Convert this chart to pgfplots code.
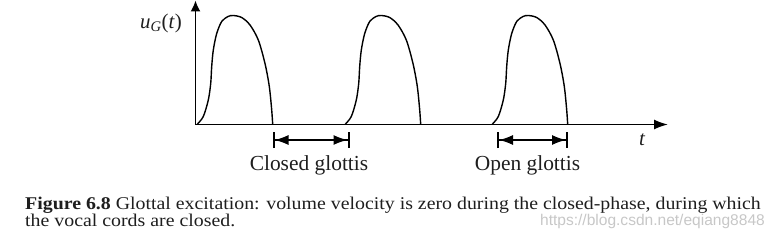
\documentclass[border=0pt]{standalone}
\usepackage{fontspec}
\setmainfont{Liberation Serif}
\newfontfamily\wmfont{Liberation Sans}
\usepackage{graphicx}
\usepackage{pgfplots}
\pgfplotsset{compat=1.18}
\usetikzlibrary{arrows.meta}
\definecolor{txt}{RGB}{30,30,30}
\begin{document}
\begin{tikzpicture}[x=1bp,y=1bp]
\useasboundingbox (0,0) rectangle (775,241);
\begin{axis}[
  at={(195.5bp,116.5bp)}, anchor=south west,
  x=1bp, y=1bp,
  xmin=195.5, xmax=668, ymin=0, ymax=124,
  enlargelimits=false, clip=false,
  axis x line=bottom, axis y line=left,
  axis line style={line width=1.6bp},
  x axis line style={-{Latex[length=14bp,width=10bp]}},
  y axis line style={-{Latex[length=11bp,width=10bp]}},
  ticks=none,
]
\addplot[line width=1.4bp, smooth, tension=0.5] coordinates {
 (197,0) (203.3,8) (208.3,24.5) (210.7,41) (211.7,58) (213.3,74.5) (216.7,91) (221.7,103) (228,108) (233.3,109) (241.7,107) (250,99.5) (258.3,84.5) (265,61) (269.3,38) (271.7,14.5) (272.7,0)};
\addplot[line width=1.4bp, smooth, tension=0.5] coordinates {
 (345,0) (351.3,8) (356.3,24.5) (358.7,41) (359.7,58) (361.3,74.5) (364.7,91) (369.7,103) (376,108) (381.3,109) (389.7,107) (398,99.5) (406.3,84.5) (413,61) (417.3,38) (419.7,14.5) (420.7,0)};
\addplot[line width=1.4bp, smooth, tension=0.5] coordinates {
 (492,0) (498.3,8) (503.3,24.5) (505.7,41) (506.7,58) (508.3,74.5) (511.7,91) (516.7,103) (523,108) (528.3,109) (536.7,107) (545,99.5) (553.3,84.5) (560,61) (564.3,38) (566.7,14.5) (567.7,0)};
\draw[line width=1.4bp, {Bar[width=16bp,line width=2bp]Latex[length=14bp,width=10bp]}-{Latex[length=14bp,width=10bp]Bar[width=16bp,line width=2bp]}] (axis cs:272.5,-15.5) -- (axis cs:349.5,-15.5);
\draw[line width=1.4bp, {Bar[width=16bp,line width=2bp]Latex[length=14bp,width=10bp]}-{Latex[length=14bp,width=10bp]Bar[width=16bp,line width=2bp]}] (axis cs:497,-15.5) -- (axis cs:568,-15.5);
\end{axis}
\node[anchor=base east, inner sep=0, text=txt, font=\fontsize{21}{24}\selectfont] at (182,213) {\textit{u}\textsubscript{\textit{G}}(\textit{t})};
\node[anchor=base, inner sep=0, text=txt, font=\fontsize{21}{24}\selectfont\itshape] at (642,96) {t};
\node[anchor=base, inner sep=0, text=txt, font=\fontsize{21.5}{24}\selectfont] at (309,71) {Closed glottis};
\node[anchor=base, inner sep=0, text=txt, font=\fontsize{21.5}{24}\selectfont] at (527.5,71) {Open glottis};
\node[anchor=base west, inner sep=0, text=txt, font=\fontsize{18}{20}\selectfont] at (25,31.7) {\scalebox{1.107}[1]{\textbf{Figure 6.8} Glottal excitation: volume velocity is zero during the closed-phase, during which}};
\node[anchor=base west, inner sep=0, text=txt, font=\fontsize{18}{20}\selectfont] at (25,15) {\scalebox{1.107}[1]{the vocal cords are closed.}};
\node[anchor=base east, inner sep=0, text=black!22, font=\wmfont\fontsize{15.6}{18}\selectfont] at (765,16) {https://blog.csdn.net/eqiang8848};
\end{tikzpicture}
\end{document}
